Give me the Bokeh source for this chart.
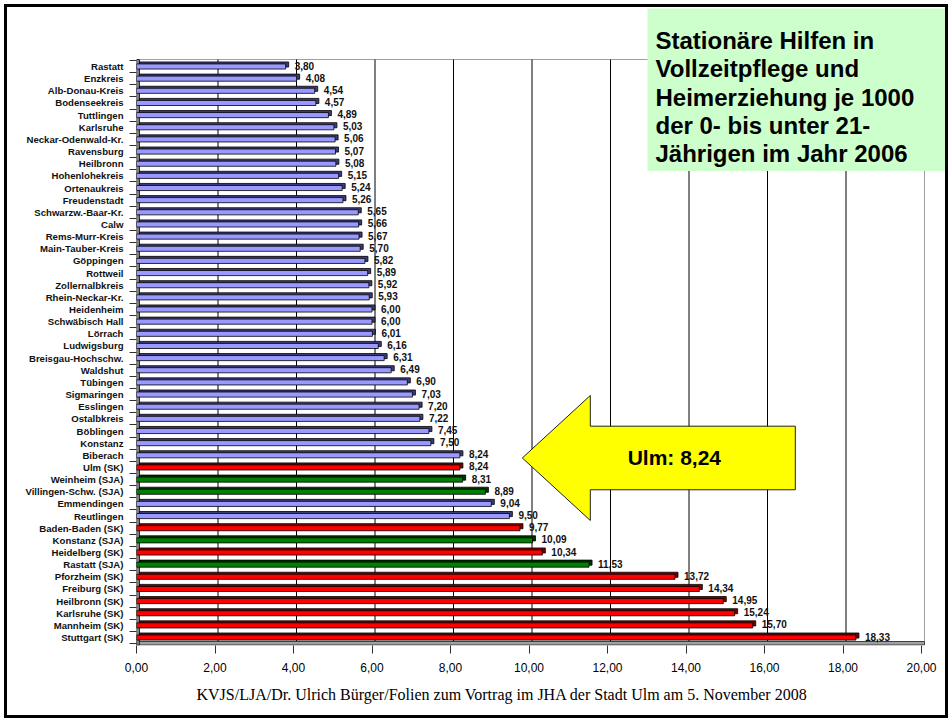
from bokeh.plotting import figure
from bokeh.models import Range1d, FixedTicker, Title
from bokeh.core.properties import value
from bokeh.embed import file_html
from bokeh.resources import INLINE

# ---------------- data ----------------
categories = [
    "Rastatt", "Enzkreis", "Alb-Donau-Kreis", "Bodenseekreis", "Tuttlingen",
    "Karlsruhe", "Neckar-Odenwald-Kr.", "Ravensburg", "Heilbronn", "Hohenlohekreis",
    "Ortenaukreis", "Freudenstadt", "Schwarzw.-Baar-Kr.", "Calw", "Rems-Murr-Kreis",
    "Main-Tauber-Kreis", "Göppingen", "Rottweil", "Zollernalbkreis", "Rhein-Neckar-Kr.",
    "Heidenheim", "Schwäbisch Hall", "Lörrach", "Ludwigsburg", "Breisgau-Hochschw.",
    "Waldshut", "Tübingen", "Sigmaringen", "Esslingen", "Ostalbkreis",
    "Böblingen", "Konstanz", "Biberach", "Ulm (SK)", "Weinheim (SJA)",
    "Villingen-Schw. (SJA)", "Emmendingen", "Reutlingen", "Baden-Baden (SK)", "Konstanz (SJA)",
    "Heidelberg (SK)", "Rastatt (SJA)", "Pforzheim (SK)", "Freiburg (SK)", "Heilbronn (SK)",
    "Karlsruhe (SK)", "Mannheim (SK)", "Stuttgart (SK)",
]
values = [
    3.80, 4.08, 4.54, 4.57, 4.89,
    5.03, 5.06, 5.07, 5.08, 5.15,
    5.24, 5.26, 5.65, 5.66, 5.67,
    5.70, 5.82, 5.89, 5.92, 5.93,
    6.00, 6.00, 6.01, 6.16, 6.31,
    6.49, 6.90, 7.03, 7.20, 7.22,
    7.45, 7.50, 8.24, 8.24, 8.31,
    8.89, 9.04, 9.50, 9.77, 10.09,
    10.34, 11.53, 13.72, 14.34, 14.95,
    15.24, 15.70, 18.33,
]
groups = (["Kreis"] * 33 + ["SK", "SJA", "SJA", "Kreis", "Kreis", "SK", "SJA", "SK", "SJA"]
          + ["SK"] * 6)

x_ticks = [0, 2, 4, 6, 8, 10, 12, 14, 16, 18, 20]
x_tick_labels = ["0,00", "2,00", "4,00", "6,00", "8,00", "10,00",
                 "12,00", "14,00", "16,00", "18,00", "20,00"]

title_lines = ["Stationäre Hilfen in", "Vollzeitpflege und", "Heimerziehung je 1000",
               "der 0- bis unter 21-", "Jährigen im Jahr 2006"]
callout_text = "Ulm: 8,24"
callout_category = "Ulm (SK)"
footer_text = ("KVJS/LJA/Dr. Ulrich Bürger/Folien zum Vortrag im JHA der Stadt Ulm "
               "am 5. November 2008")

# ---------------- styling / layout ----------------
face = {"Kreis": "#9999FF", "SK": "#FF0000", "SJA": "#008000"}
depth = {"Kreis": "#3C3C78", "SK": "#7A0000", "SJA": "#003300"}
FONT = "Liberation Sans"

PAD = 7                       # page offset of the canvas (inside the black frame)
W, H = 952 - 2 * PAD, 722 - 2 * PAD
LEFT = 136 - PAD              # frame left (canvas px)
FRAME_BOTTOM = 645 - PAD      # frame bottom (canvas px)
PX_X = 39.25                  # px per x unit
ROW_PX = 12.15                # px per category row
FIRST_ROW = 66 - PAD          # first row centre (canvas px)

n = len(categories)
ypos = [n - i for i in range(n)]
x_end = (W - LEFT) / PX_X
y_top = n + FIRST_ROW / ROW_PX
y_bot = n - (FRAME_BOTTOM - FIRST_ROW) / ROW_PX


def dx(px):
    return px / PX_X


def dy(px):
    return px / ROW_PX


def page_x(px):
    return dx(px - PAD - LEFT)


def page_y(py):
    return n - dy(py - PAD - FIRST_ROW)


DX, DY = dx(3), dy(2)
wall_top = page_y(59)
floor_top = page_y(641)
floor_bot = page_y(644.5)

p = figure(width=W, height=H, x_range=Range1d(0, x_end), y_range=Range1d(y_bot, y_top),
           output_backend="svg", toolbar_location=None,
           min_border_left=LEFT, min_border_right=0, min_border_top=0,
           min_border_bottom=H - FRAME_BOTTOM)
p.xgrid.visible = False
p.ygrid.visible = False
p.outline_line_color = None
p.background_fill_color = "white"
p.styles = {"margin": f"{PAD}px", "outline": "3px solid black"}

# x axis
p.xaxis.ticker = FixedTicker(ticks=x_ticks)
p.xaxis.major_label_overrides = dict(zip(x_ticks, x_tick_labels))
p.xaxis.axis_line_color = None
p.xaxis.major_tick_out = 8
p.xaxis.major_tick_in = 0
p.xaxis.minor_tick_line_color = None
p.xaxis.major_tick_line_color = "#303030"
p.xaxis.major_label_text_font = FONT
p.xaxis.major_label_text_font_size = "12px"
p.xaxis.major_label_text_color = "black"
p.xaxis.major_label_standoff = 9

# y axis (categories)
p.yaxis.ticker = FixedTicker(ticks=ypos, minor_ticks=[v + 0.5 for v in ypos] + [0.5])
p.yaxis.major_label_overrides = {v: c for v, c in zip(ypos, categories)}
p.yaxis.axis_line_color = None
p.yaxis.major_tick_out = 0
p.yaxis.major_tick_in = 0
p.yaxis.minor_tick_out = 7
p.yaxis.minor_tick_in = 0
p.yaxis.minor_tick_line_color = "#303030"
p.yaxis.major_label_text_font = FONT
p.yaxis.major_label_text_font_size = "9.6px"
p.yaxis.major_label_text_font_style = "bold"
p.yaxis.major_label_text_color = "#111111"
p.yaxis.major_label_standoff = 6

# 3D chart walls
p.quad(left=DX, right=20 + DX, top=wall_top, bottom=floor_top,
       fill_color="white", line_color="#A0A0A0", line_width=1)
p.segment(x0=[t + DX for t in x_ticks[1:-1]], y0=floor_top,
          x1=[t + DX for t in x_ticks[1:-1]], y1=wall_top,
          line_color="black", line_width=1)
p.quad(left=0, right=20 + DX, top=floor_top, bottom=floor_bot,
       fill_color="#A0A0A0", line_color="#404040", line_width=1)
p.quad(left=0, right=DX, top=wall_top, bottom=floor_bot,
       fill_color="#808080", line_color="#303030", line_width=1)

# bars (depth face then front face)
p.hbar(y=[v + DY for v in ypos], left=DX, right=[x + DX for x in values], height=0.42,
       fill_color=[depth[g] for g in groups], line_color="black", line_width=0.8)
p.hbar(y=ypos, left=0, right=values, height=0.42,
       fill_color=[face[g] for g in groups], line_color="black", line_width=0.8)

# value labels
p.text(x=values, y=ypos, text=[f"{v:.2f}".replace(".", ",") for v in values],
       x_offset=9, y_offset=-1, text_align="left", text_baseline="middle",
       text_font=value(FONT), text_font_size="10px", text_font_style="bold",
       text_color="#111111")

# title box
p.quad(left=page_x(647), right=page_x(945), top=page_y(8), bottom=page_y(170.5),
       fill_color="#CCFFCC", line_color=None)
baselines = [40, 68.3, 96.7, 125, 153.3]
p.text(x=[page_x(655)] * len(title_lines),
       y=[page_y(b) for b in baselines],
       text=title_lines, text_align="left", text_baseline="alphabetic",
       text_font=value(FONT), text_font_size="24px", text_font_style="bold",
       text_color="black")

# callout arrow pointing at Ulm
ui = categories.index(callout_category)
tip_x = values[ui] + 1.59
cy = ypos[ui] + 0.78
head_x = tip_x + dx(68)
end_x = tip_x + dx(273)
hh, sh = dy(62.5), dy(31.8)
p.patch(x=[tip_x, head_x, head_x, end_x, end_x, head_x, head_x],
        y=[cy, cy + hh, cy + sh, cy + sh, cy - sh, cy - sh, cy - hh],
        fill_color="#FFFF00", line_color="#202020", line_width=1)
p.text(x=[tip_x + dx(152)], y=[cy], text=[callout_text], text_align="center",
       text_baseline="middle", text_font=value(FONT), text_font_size="21px",
       text_font_style="bold", text_color="black")

# footer
p.add_layout(Title(text=footer_text, align="left", offset=60, standoff=19,
                   text_font="Liberation Serif", text_font_size="16px",
                   text_font_style="normal", text_color="black"), "below")

open("out.html", "w").write(file_html(p, INLINE))
